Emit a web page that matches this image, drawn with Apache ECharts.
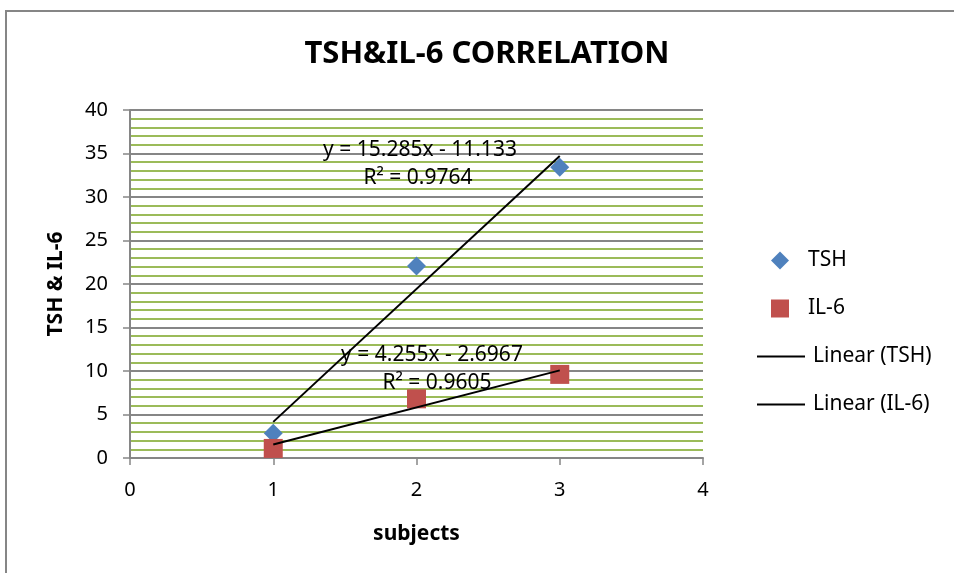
<!DOCTYPE html>
<html>
<head>
<meta charset="utf-8">
<script src="https://cdn.jsdelivr.net/npm/echarts@6/dist/echarts.min.js"></script>
<style>
  html, body { margin: 0; padding: 0; background: #fff; }
  #chart { width: 954px; height: 573px; }
</style>
</head>
<body>
<div id="chart"></div>
<script>
const subjects = [1, 2, 3];
const tshValues = [2.85, 22.08, 33.42];
const il6Values = [1.1, 6.8, 9.61];
// trendline coefficients as printed on the chart: [slope, intercept]
const tshTrend = [15.285, -11.133];
const il6Trend = [4.255, -2.6967];
const tshEquation = ['y = 15.285x - 11.133', 'R² = 0.9764'];
const il6Equation = ['y = 4.255x - 2.6967', 'R² = 0.9605'];

const font = 'Noto Sans';
const trendPoints = (c) => [subjects[0], subjects[subjects.length - 1]].map(x => [x, c[0] * x + c[1]]);
const eqFont = '21px "Noto Sans"';

const chart = echarts.init(document.getElementById('chart'));
chart.setOption({
    animation: false,
    textStyle: { fontFamily: font },
    title: {
        text: 'TSH&IL-6 CORRELATION',
        left: 482,
        top: 34,
        textAlign: 'center',
        textStyle: { fontSize: 31, fontWeight: 'bold', color: '#000', fontFamily: font }
    },
    grid: { left: 130, right: 251, top: 110, bottom: 115 },
    legend: [{
        data: [{ name: 'TSH', icon: 'diamond' }, { name: 'IL-6', icon: 'rect' }],
        orient: 'vertical',
        left: 766,
        top: 245,
        itemWidth: 18,
        itemHeight: 18,
        itemGap: 27,
        textStyle: { fontSize: 21, color: '#000', padding: [0, 0, 0, 14] }
    }, {
        data: [{ name: 'Linear (TSH)', icon: 'rect' }, { name: 'Linear (IL-6)', icon: 'rect' }],
        orient: 'vertical',
        left: 752,
        top: 341,
        itemWidth: 48,
        itemHeight: 2,
        itemGap: 27,
        textStyle: { fontSize: 21, color: '#000', padding: [0, 0, 0, 3] }
    }],
    xAxis: {
        type: 'value',
        min: 0,
        max: 4,
        interval: 1,
        name: 'subjects',
        nameLocation: 'middle',
        nameGap: 66,
        nameTextStyle: { fontSize: 21, fontWeight: 'bold', color: '#000' },
        axisLine: { lineStyle: { color: '#868686', width: 2 } },
        axisTick: { show: true, length: 7, lineStyle: { color: '#868686', width: 1.5 } },
        axisLabel: { fontSize: 20, color: '#000', margin: 22 },
        splitLine: { show: false }
    },
    yAxis: {
        type: 'value',
        min: 0,
        max: 40,
        interval: 5,
        name: 'TSH & IL-6',
        nameLocation: 'middle',
        nameGap: 63,
        nameTextStyle: { fontSize: 21, fontWeight: 'bold', color: '#000' },
        axisLine: { show: true, lineStyle: { color: '#868686', width: 2 } },
        axisTick: { show: true, length: 7, lineStyle: { color: '#868686', width: 1.5 } },
        axisLabel: { fontSize: 20, color: '#000', margin: 22 },
        splitLine: { show: true, lineStyle: { color: '#868686', width: 2 } },
        minorTick: { show: false, splitNumber: 5 },
        minorSplitLine: { show: true, lineStyle: { color: '#9bbb59', width: 2 } }
    },
    series: [{
        name: 'TSH',
        type: 'scatter',
        symbol: 'diamond',
        symbolSize: 19,
        itemStyle: { color: '#4f81bd', opacity: 1 },
        data: subjects.map((x, i) => [x, tshValues[i]]),
        z: 3
    }, {
        name: 'IL-6',
        type: 'scatter',
        symbol: 'rect',
        symbolSize: 19,
        itemStyle: { color: '#c0504d', opacity: 1 },
        data: subjects.map((x, i) => [x, il6Values[i]]),
        z: 3
    }, {
        name: 'Linear (TSH)',
        type: 'line',
        symbol: 'none',
        lineStyle: { color: '#000', width: 2 },
        itemStyle: { color: '#000' },
        data: trendPoints(tshTrend),
        z: 4
    }, {
        name: 'Linear (IL-6)',
        type: 'line',
        symbol: 'none',
        lineStyle: { color: '#000', width: 2 },
        itemStyle: { color: '#000' },
        data: trendPoints(il6Trend),
        z: 4
    }],
    graphic: [{
        type: 'rect',
        shape: { x: 6, y: 11, width: 960, height: 580 },
        style: { fill: 'none', stroke: '#868686', lineWidth: 2 },
        silent: true
    }, {
        type: 'text', x: 420, y: 150, z: 10,
        style: { text: tshEquation[0], font: eqFont, fill: '#000', align: 'center', verticalAlign: 'middle' }
    }, {
        type: 'text', x: 418, y: 178, z: 10,
        style: { text: tshEquation[1], font: eqFont, fill: '#000', align: 'center', verticalAlign: 'middle' }
    }, {
        type: 'text', x: 432, y: 355, z: 10,
        style: { text: il6Equation[0], font: eqFont, fill: '#000', align: 'center', verticalAlign: 'middle' }
    }, {
        type: 'text', x: 437, y: 383, z: 10,
        style: { text: il6Equation[1], font: eqFont, fill: '#000', align: 'center', verticalAlign: 'middle' }
    }]
});
</script>
</body>
</html>
